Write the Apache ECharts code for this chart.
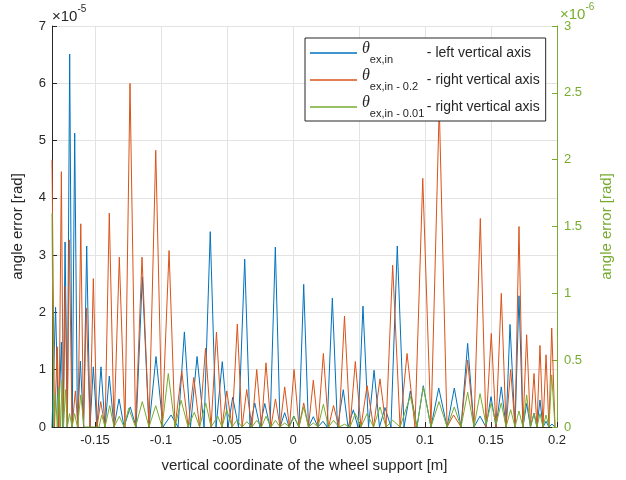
<!DOCTYPE html>
<html>
<head>
<meta charset="utf-8">
<script src="https://cdn.jsdelivr.net/npm/echarts@6/dist/echarts.min.js"></script>
<style>html,body{margin:0;padding:0;background:#fff}#c{width:626px;height:480px}</style>
</head>
<body>
<div id="c"></div>
<script>
// x tick labels (m)
const xTicks = [-0.15, -0.1, -0.05, 0, 0.05, 0.1, 0.15, 0.2];
// left axis ticks (x1e-5 rad), right axis ticks (x1e-6 rad)
const leftTicks = [0, 1, 2, 3, 4, 5, 6, 7];
const rightTicks = [0, 0.5, 1, 1.5, 2, 2.5, 3];

// series names / legend texts
const seriesNames = ['θ ex,in', 'θ ex,in - 0.2', 'θ ex,in - 0.01'];
const legendSubs = ['ex,in', 'ex,in - 0.2', 'ex,in - 0.01'];
const legendDescs = ['- left vertical axis', '- right vertical axis', '- right vertical axis'];

// theta_ex,in  (left axis, x1e-5 rad)
const blueX = [-0.1826,-0.1799,-0.1777,-0.1755,-0.1742,-0.1727,-0.1710,-0.1692,-0.1673,-0.1654,-0.1633,-0.1611,-0.1587,-0.1563,-0.1538,-0.1513,-0.1485,-0.1455,-0.1424,-0.1392,-0.1356,-0.1318,-0.1280,-0.1233,-0.1189,-0.1142,-0.1091,-0.1038,-0.0985,-0.0924,-0.0871,-0.0823,-0.0777,-0.0727,-0.0674,-0.0627,-0.0583,-0.0536,-0.0492,-0.0457,-0.0413,-0.0366,-0.0326,-0.0290,-0.0250,-0.0214,-0.0174,-0.0134,-0.0098,-0.0063,-0.0030,0.0005,0.0045,0.0081,0.0117,0.0154,0.0189,0.0227,0.0258,0.0298,0.0337,0.0381,0.0417,0.0457,0.0492,0.0530,0.0572,0.0614,0.0655,0.0697,0.0742,0.0790,0.0841,0.0889,0.0939,0.0987,0.1045,0.1104,0.1167,0.1222,0.1273,0.1323,0.1371,0.1417,0.1462,0.1500,0.1538,0.1578,0.1614,0.1644,0.1682,0.1712,0.1742,0.1770,0.1799,0.1826,0.1848,0.1871,0.1894,0.1917,0.1939,0.1962,0.1985];
const blueY = [0,2.09,0,1.48,0,3.23,0,6.51,0,5.13,0,1.15,0,3.16,0,1.05,0,1.05,0,0.89,0,0.49,0,0.35,0,2.62,0,1.23,0,0.21,0,1.66,0,1.23,0,3.41,0,1.14,0,0.52,0,2.93,0,0.42,0,0.41,0,3.14,0,0.25,0,0.19,0,2.49,0,0.18,0,0.10,0,2.25,0,0.65,0,0.30,0,2.11,0,0.99,0,0.34,0,3.16,0,0.63,0,0.72,0,0.68,0,0.68,0,1.46,0,0.19,0,0.53,0,0.70,0,1.79,0,2.29,0,0.41,0,0.24,0,0.47,0,0.10,0,0.05,0];

// theta_ex,in - 0.2  (right axis, x1e-6 rad)
const orangeX = [-0.1826,-0.1807,-0.1786,-0.1773,-0.1755,-0.1740,-0.1725,-0.1710,-0.1695,-0.1674,-0.1649,-0.1629,-0.1608,-0.1587,-0.1566,-0.1538,-0.1513,-0.1485,-0.1457,-0.1424,-0.1392,-0.1356,-0.1316,-0.1273,-0.1235,-0.1193,-0.1144,-0.1091,-0.1040,-0.0992,-0.0939,-0.0894,-0.0843,-0.0795,-0.0752,-0.0708,-0.0663,-0.0621,-0.0580,-0.0538,-0.0502,-0.0462,-0.0422,-0.0386,-0.0351,-0.0311,-0.0275,-0.0239,-0.0205,-0.0167,-0.0133,-0.0098,-0.0063,-0.0027,0.0008,0.0045,0.0081,0.0117,0.0154,0.0189,0.0230,0.0269,0.0307,0.0348,0.0390,0.0432,0.0472,0.0515,0.0561,0.0610,0.0659,0.0705,0.0755,0.0811,0.0864,0.0924,0.0983,0.1045,0.1108,0.1167,0.1216,0.1273,0.1323,0.1371,0.1419,0.1462,0.1502,0.1538,0.1578,0.1614,0.1649,0.1682,0.1712,0.1742,0.1770,0.1799,0.1826,0.1848,0.1871,0.1894,0.1917,0.1939,0.1960,0.1985];
const orangeY = [2.0,0,0.60,0,1.91,0,1.05,0,1.40,0,0.27,0,1.52,0,0.89,0,1.11,0,0.19,0,1.60,0,1.27,0,2.57,0,1.27,0,2.07,0,1.32,0,0.42,0,0.37,0,0.59,0,0.71,0,0.27,0,0.77,0,0.28,0,0.43,0,0.48,0,0.21,0,0.30,0,0.43,0,0.18,0,0.35,0,0.55,0,0.16,0,0.83,0,0.49,0,0.31,0,0.36,0,1.21,0,0.55,0,1.86,0,2.4,0,0.09,0,0.50,0,1.56,0,0.70,0,1.0,0,0.43,0,1.50,0,0.69,0,0.40,0,0.61,0,0.54,0,0.74,0];

// theta_ex,in - 0.01  (right axis, x1e-6 rad)
const greenX = [-0.1826,-0.1814,-0.1799,-0.1786,-0.1773,-0.1761,-0.1750,-0.1739,-0.1723,-0.1710,-0.1693,-0.1674,-0.1655,-0.1633,-0.1608,-0.1583,-0.1470,-0.1449,-0.1424,-0.1389,-0.1356,-0.1316,-0.1280,-0.1245,-0.1193,-0.1142,-0.1091,-0.1040,-0.0992,-0.0945,-0.0894,-0.0848,-0.0795,-0.0748,-0.0708,-0.0661,-0.0621,-0.0570,-0.0538,-0.0502,-0.0462,-0.0427,-0.0386,-0.0351,-0.0311,-0.0275,-0.0239,-0.0205,-0.0167,-0.0133,-0.0098,-0.0063,-0.0027,0.0008,0.0045,0.0081,0.0117,0.0154,0.0189,0.0230,0.0269,0.0307,0.0348,0.0390,0.0432,0.0472,0.0515,0.0561,0.0610,0.0659,0.0705,0.0755,0.0811,0.0889,0.0939,0.0987,0.1045,0.1106,0.1167,0.1222,0.1273,0.1323,0.1371,0.1417,0.1462,0.1502,0.1538,0.1578,0.1614,0.1649,0.1682,0.1712,0.1742,0.1770,0.1799,0.1826,0.1848,0.1871,0.1894,0.1917,0.1939,0.1960,0.1985];
const greenY = [1.6,0,0.25,0,0.30,0,0.35,0,0.28,0,0.10,0,0.10,0,0.24,0,0,0.09,0,0.16,0,0.08,0,0.14,0,0.19,0,0.16,0,0.40,0,0.20,0,0.11,0,0.18,0,0.08,0,0.13,0,0.05,0,0.04,0,0.05,0,0.08,0,0.05,0,0.03,0,0.08,0,0.15,0,0.03,0,0.17,0,0.05,0,0.02,0,0.10,0,0.10,0,0.15,0,0.05,0,0.23,0,0.30,0,0.19,0,0.15,0,0.26,0,0.25,0.02,0.18,0.02,0.18,0,0.13,0,0.12,0,0.24,0,0.10,0,0.10,0,0.09,0,0.39,0];

const zip = (xs, ys) => xs.map((x, i) => [x, ys[i]]);

const BLUE = '#0072BD', ORANGE = '#D95319', GREEN = '#77AC30', TXT = '#262626';
const FONT = '"Liberation Sans", Arial, Helvetica, sans-serif';

const chart = echarts.init(document.getElementById('c'), null, {renderer: 'canvas'});
chart.setOption({
  animation: false,
  backgroundColor: '#fff',
  grid: {left: 52, right: 69, top: 26, bottom: 53, containLabel: false},
  xAxis: {
    type: 'value', min: -0.1826, max: 0.2,
    name: 'vertical coordinate of the wheel support [m]',
    nameLocation: 'middle', nameGap: 31,
    nameTextStyle: {fontFamily: FONT, fontSize: 15, color: TXT},
    axisLine: {show: true, onZero: false, lineStyle: {color: TXT, width: 1}},
    axisTick: {show: true, inside: true, length: 5, customValues: xTicks, lineStyle: {color: TXT}},
    axisLabel: {customValues: xTicks, fontFamily: FONT, fontSize: 13, color: TXT, margin: 7,
                formatter: v => String(v)},
    splitLine: {show: true, lineStyle: {color: '#e3e3e3', width: 1}}
  },
  yAxis: [{
    type: 'value', min: 0, max: 7, interval: 1, position: 'left',
    name: 'angle error [rad]', nameLocation: 'middle', nameGap: 27, nameRotate: 90,
    nameTextStyle: {fontFamily: FONT, fontSize: 15, color: TXT},
    axisLine: {show: true, onZero: false, lineStyle: {color: TXT, width: 1}},
    axisTick: {show: true, inside: true, length: 5, lineStyle: {color: TXT}},
    axisLabel: {fontFamily: FONT, fontSize: 13, color: TXT, margin: 6},
    splitLine: {show: true, lineStyle: {color: '#e3e3e3', width: 1}}
  }, {
    type: 'value', min: 0, max: 3, interval: 0.5, position: 'right',
    name: 'angle error [rad]', nameLocation: 'middle', nameGap: 42, nameRotate: 90,
    nameTextStyle: {fontFamily: FONT, fontSize: 15, color: GREEN},
    axisLine: {show: true, onZero: false, lineStyle: {color: GREEN, width: 1}},
    axisTick: {show: true, inside: true, length: 5, lineStyle: {color: GREEN}},
    axisLabel: {fontFamily: FONT, fontSize: 13, color: GREEN, margin: 7},
    splitLine: {show: false}
  }],
  legend: {
    orient: 'vertical', left: 305, top: 38,
    data: seriesNames,
    icon: 'rect',
    backgroundColor: '#fff', borderColor: TXT, borderWidth: 1, borderRadius: 0,
    padding: [3, 6, 2, 5], itemGap: 3, itemWidth: 47, itemHeight: 1.5,
    formatter: name => {
      const i = seriesNames.indexOf(name);
      return '{t|θ}{s|' + legendSubs[i] + '}{d|' + legendDescs[i] + '}';
    },
    textStyle: {
      rich: {
        t: {fontFamily: '"Liberation Serif", "DejaVu Serif", serif', fontStyle: 'italic', fontSize: 16, color: TXT, lineHeight: 20, verticalAlign: 'top'},
        s: {fontFamily: FONT, fontSize: 11, color: TXT, lineHeight: 14, padding: [10, 0, 0, 0], width: 57, verticalAlign: 'bottom'},
        d: {fontFamily: FONT, fontSize: 14, color: TXT, lineHeight: 24, verticalAlign: 'middle'}
      }
    }
  },
  graphic: [
    {type: 'text', left: 52, top: 4, style: {
      text: '{a|×10}{b|-5}',
      rich: {a: {fontFamily: FONT, fontSize: 15, fill: TXT, padding: [6, 0, 0, 0]},
             b: {fontFamily: FONT, fontSize: 10, fill: TXT, padding: [0, 0, 9, 0]}}
    }},
    {type: 'text', left: 560, top: 2, style: {
      text: '{a|×10}{b|-6}',
      rich: {a: {fontFamily: FONT, fontSize: 15, fill: GREEN, padding: [6, 0, 0, 0]},
             b: {fontFamily: FONT, fontSize: 10, fill: GREEN, padding: [0, 0, 9, 0]}}
    }}
  ],
  series: [
    {name: seriesNames[0], type: 'line', yAxisIndex: 0, data: zip(blueX, blueY), symbol: 'none',
     lineStyle: {color: BLUE, width: 1}, itemStyle: {color: BLUE}},
    {name: seriesNames[1], type: 'line', yAxisIndex: 1, data: zip(orangeX, orangeY), symbol: 'none',
     lineStyle: {color: ORANGE, width: 1}, itemStyle: {color: ORANGE}},
    {name: seriesNames[2], type: 'line', yAxisIndex: 1, data: zip(greenX, greenY), symbol: 'none',
     lineStyle: {color: GREEN, width: 1}, itemStyle: {color: GREEN}}
  ]
});
</script>
</body>
</html>
